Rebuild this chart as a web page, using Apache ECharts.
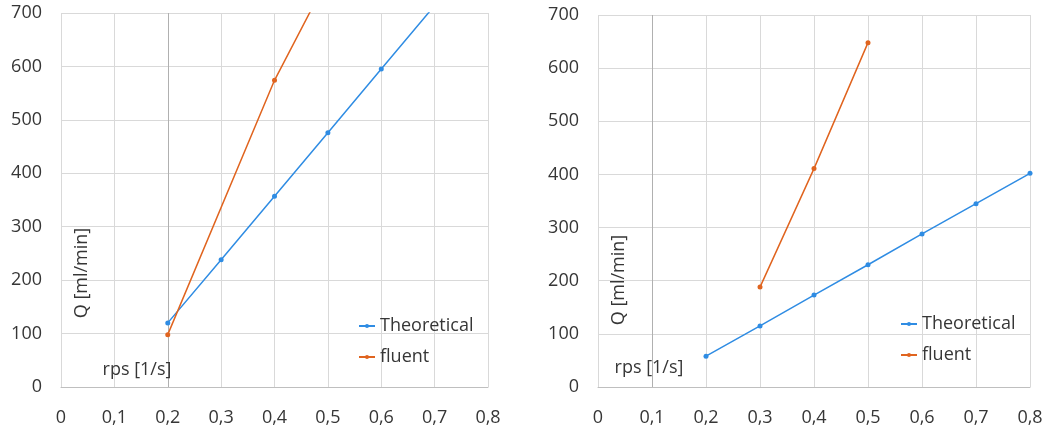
<!DOCTYPE html>
<html><head><meta charset="utf-8">
<script src="https://cdn.jsdelivr.net/npm/echarts@6/dist/echarts.min.js"></script>
<style>html,body{margin:0;padding:0;background:#fff}#c{width:1046px;height:427px}</style>
</head><body><div id="c"></div>
<script>
// Left chart
const leftTheoX = [0.2, 0.3, 0.4, 0.5, 0.6, 0.7];
const leftTheoY = [120, 238, 357, 476, 595, 714];
const leftFluentX = [0.2, 0.4, 0.5];
const leftFluentY = [98, 574, 766];
// Right chart
const rightTheoX = [0.2, 0.3, 0.4, 0.5, 0.6, 0.7, 0.8];
const rightTheoY = [58, 115, 173, 230, 288, 345, 402];
const rightFluentX = [0.3, 0.4, 0.5];
const rightFluentY = [188, 411, 648];
const seriesNames = ['Theoretical', 'fluent'];
const yTitle = 'Q [ml/min]';
const xTitle = 'rps [1/s]';

const BLUE = '#2f8ce3', ORANGE = '#e0641f', TXT = '#363636', FONT = 'Open Sans', FS = 18;
const pairs = (xs, ys) => xs.map((x, i) => [x, ys[i]]);

const xAxisBase = (gi) => ({
  type: 'value', gridIndex: gi, min: 0, max: 0.8, interval: 0.1,
  axisLine: { show: true, lineStyle: { color: '#bfbfbf', width: 1 } },
  axisTick: { show: false },
  splitLine: { show: true, lineStyle: { color: '#d9d9d9', width: 1 } },
  axisLabel: { color: TXT, fontFamily: FONT, fontSize: FS, margin: 22,
    formatter: v => String(Math.round(v * 10) / 10).replace('.', ',') }
});
const yAxisBase = (gi) => ({
  type: 'value', gridIndex: gi, min: 0, max: 700, interval: 100,
  axisLine: { show: false }, axisTick: { show: false },
  splitLine: { show: true, lineStyle: { color: '#d9d9d9', width: 1 } },
  axisLabel: { color: TXT, fontFamily: FONT, fontSize: FS, margin: 19 }
});
const lineSeries = (name, gi, data, color, extra) => Object.assign({
  name, type: 'line', xAxisIndex: gi, yAxisIndex: gi, data,
  symbol: 'circle', symbolSize: 5, showSymbol: true,
  lineStyle: { color, width: 1.5 }, itemStyle: { color },
  animation: false, clip: true, z: 3
}, extra || {});
const darkV = (x) => ({ markLine: { silent: true, symbol: 'none', label: { show: false },
  lineStyle: { color: '#b0b0b0', width: 1, type: 'solid' }, data: [{ xAxis: x }], z: 1 } });

const legendBase = (left, top) => ({
  data: seriesNames, left, top, orient: 'vertical', itemWidth: 16, itemHeight: 5, itemGap: 9,
  textStyle: { color: TXT, fontFamily: FONT, fontSize: FS, lineHeight: 22 },
  selectedMode: false
});
const txt = (text, x, y, rot) => ({
  type: 'text', x, y, rotation: rot || 0, z: 10,
  style: { text, fill: TXT, font: FS + 'px "Open Sans"', align: 'center', verticalAlign: 'middle' }
});

const chart = echarts.init(document.getElementById('c'), null, { renderer: 'canvas' });
chart.setOption({
  animation: false,
  backgroundColor: '#fff',
  grid: [
    { left: 61, top: 13, width: 427, height: 374 },
    { left: 598, top: 15, width: 432, height: 372 }
  ],
  xAxis: [xAxisBase(0), xAxisBase(1)],
  yAxis: [yAxisBase(0), yAxisBase(1)],
  legend: [legendBase(353, 310), legendBase(895, 308)],
  graphic: [
    txt(yTitle, 82, 273, Math.PI / 2),
    txt(xTitle, 137, 370),
    txt(yTitle, 619, 280, Math.PI / 2),
    txt(xTitle, 649, 368)
  ],
  series: [
    lineSeries(seriesNames[0], 0, pairs(leftTheoX, leftTheoY), BLUE, darkV(0.2)),
    lineSeries(seriesNames[1], 0, pairs(leftFluentX, leftFluentY), ORANGE),
    lineSeries(seriesNames[0], 1, pairs(rightTheoX, rightTheoY), BLUE, darkV(0.1)),
    lineSeries(seriesNames[1], 1, pairs(rightFluentX, rightFluentY), ORANGE)
  ]
});
</script></body></html>
